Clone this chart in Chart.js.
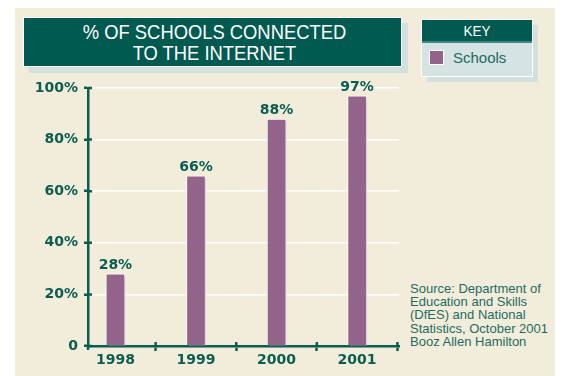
<!DOCTYPE html>
<html>
<head>
<meta charset="utf-8">
<script src="https://cdn.jsdelivr.net/npm/chart.js@4.4.1/dist/chart.umd.min.js"></script>
<style>
  html, body { margin: 0; padding: 0; background: #fff; }
  #wrap { position: relative; width: 563px; height: 376px; overflow: hidden; font-family: "Liberation Sans", Arial, sans-serif; }
  #panel { position: absolute; left: 15px; top: 8px; width: 540px; height: 368px; background: #f1edda; }
  .shadow { position: absolute; background: #d3e0dd; }
  #titleBox { position: absolute; left: 23px; top: 17px; width: 379px; height: 50px; background: #015a4f; border: 1px solid #fff; box-sizing: border-box; }
  #title { position: absolute; left: 25px; top: 22px; width: 379px; text-align: center; color: #fff; font-size: 21px; line-height: 20.7px; transform: scaleX(0.875); white-space: nowrap; }
  #keyBox { position: absolute; left: 421px; top: 19px; width: 112px; height: 58px; background: #d5e4e2; border: 1px solid #fff; box-sizing: border-box; }
  #keyHead { position: absolute; left: 0; top: 0; right: 0; height: 21px; background: #015a4f; border-bottom: 2px solid #3f8a80; color: #fff; font-size: 15px; line-height: 21px; text-align: center; }
  #keyHead span { display: inline-block; transform: scaleX(0.9); }
  #swatch { position: absolute; left: 7px; top: 30px; width: 15px; height: 15px; background: #93648a; border: 1px solid #fff; box-sizing: border-box; }
  #keyLabel { position: absolute; left: 31px; top: 29px; color: #1f6b63; font-size: 15px; line-height: 17px; }
  #source { position: absolute; left: 410px; top: 282px; color: #1f6b63; font-size: 13px; line-height: 13.2px; white-space: nowrap; }
  canvas { position: absolute; left: 0; top: 0; }
</style>
</head>
<body>
<div id="wrap">
  <div id="panel"></div>
  <div class="shadow" style="left:29px;top:23px;width:379px;height:50px;"></div>
  <div id="titleBox"></div>
  <div id="title">% OF SCHOOLS CONNECTED<br>TO THE INTERNET</div>
  <div class="shadow" style="left:427px;top:25px;width:111px;height:57px;"></div>
  <div id="keyBox">
    <div id="keyHead"><span>KEY</span></div>
    <div id="swatch"></div>
    <div id="keyLabel"></div>
  </div>
  <div id="source">Source: Department of<br>Education and Skills<br>(DfES) and National<br>Statistics, October 2001<br>Booz Allen Hamilton</div>
  <canvas id="chart" width="563" height="376"></canvas>
</div>
<script>
// data
const years = [1998, 1999, 2000, 2001];
const schoolsPct = [28, 66, 88, 97];
const yTickValues = [0, 20, 40, 60, 80, 100];
const seriesName = 'Schools';

const GREEN = '#0b5d52';
const PURPLE = '#93648a';

document.getElementById('keyLabel').textContent = seriesName;

// tick marks sit half way between the years
const xTickValues = [];
years.forEach(y => { xTickValues.push(y); xTickValues.push(y + 0.5); });

const barDecor = {
  id: 'barDecor',
  beforeDatasetsDraw(chart) {
    const ctx = chart.ctx;
    ctx.save();
    ctx.shadowColor = '#d8cadf';
    ctx.shadowOffsetX = 3;
    ctx.shadowOffsetY = 2;
    ctx.shadowBlur = 0;
  },
  afterDatasetsDraw(chart) {
    const ctx = chart.ctx;
    ctx.restore();
    ctx.save();
    ctx.fillStyle = GREEN;
    ctx.font = 'bold 14px "DejaVu Sans"';
    ctx.textAlign = 'center';
    ctx.textBaseline = 'alphabetic';
    chart.getDatasetMeta(0).data.forEach((bar, i) => {
      ctx.fillText(schoolsPct[i] + '%', bar.x, bar.y - 5);
    });
    ctx.restore();
  },
  // the printed axes have ticks that cross the line
  afterDraw(chart) {
    const ctx = chart.ctx;
    const xs = chart.scales.x, ys = chart.scales.y;
    const area = chart.chartArea;
    ctx.save();
    ctx.strokeStyle = GREEN;
    ctx.lineWidth = 2.5;
    ctx.beginPath();
    xTickValues.filter(v => v % 1 !== 0).forEach(v => {
      const px = xs.getPixelForValue(v);
      ctx.moveTo(px, area.bottom - 4);
      ctx.lineTo(px, area.bottom);
    });
    yTickValues.forEach(v => {
      const py = ys.getPixelForValue(v);
      ctx.moveTo(area.left, py);
      ctx.lineTo(area.left + 4, py);
    });
    ctx.moveTo(area.left, area.bottom);
    ctx.lineTo(area.left, area.bottom + 4);
    ctx.stroke();
    ctx.restore();
  }
};

new Chart(document.getElementById('chart'), {
  type: 'bar',
  data: {
    labels: years,
    datasets: [{
      label: seriesName,
      data: years.map((y, i) => ({ x: y, y: schoolsPct[i] })),
      backgroundColor: PURPLE,
      borderColor: '#ffffff',
      borderWidth: 1,
      borderSkipped: 'bottom',
      barThickness: 19
    }]
  },
  options: {
    responsive: false,
    animation: false,
    layout: { padding: { left: 0, top: 88, right: 164, bottom: 0 } },
    plugins: {
      legend: { display: false },
      tooltip: { enabled: false }
    },
    scales: {
      x: {
        type: 'linear',
        offset: false,
        min: 1997.66,
        max: 2001.52,
        afterBuildTicks: axis => { axis.ticks = xTickValues.map(v => ({ value: v })); },
        afterFit: scale => { scale.height = 30; },
        grid: {
          offset: false,
          drawOnChartArea: false,
          tickLength: 5,
          tickWidth: 2.5,
          tickColor: c => (c.tick && c.tick.value % 1 !== 0) ? GREEN : 'rgba(0,0,0,0)'
        },
        border: { color: GREEN, width: 2.5 },
        ticks: {
          autoSkip: false,
          maxRotation: 0,
          padding: 1,
          color: GREEN,
          font: { family: 'DejaVu Sans', weight: 'bold', size: 14 },
          callback: v => (v % 1 === 0 ? String(v) : '')
        }
      },
      y: {
        min: 0,
        max: 100,
        afterBuildTicks: axis => { axis.ticks = yTickValues.map(v => ({ value: v })); },
        afterFit: scale => { scale.width = 88; },
        grid: {
          color: c => (c.tick && c.tick.value === 0) ? 'rgba(0,0,0,0)' : '#ffffff',
          lineWidth: 1.5,
          tickLength: 4,
          tickWidth: 2.5,
          tickColor: GREEN
        },
        border: { color: GREEN, width: 2.5 },
        ticks: {
          padding: 6,
          color: GREEN,
          font: { family: 'DejaVu Sans', weight: 'bold', size: 14 },
          callback: v => (v === 0 ? '0' : v + '%')
        }
      }
    }
  },
  plugins: [barDecor]
});
</script>
</body>
</html>
